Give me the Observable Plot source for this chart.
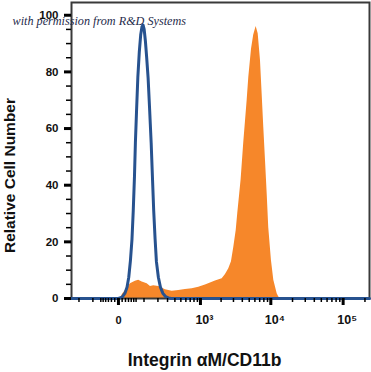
<!DOCTYPE html>
<html>
<head>
<meta charset="utf-8">
<script src="https://cdn.jsdelivr.net/npm/d3@7"></script>
<script src="https://cdn.jsdelivr.net/npm/@observablehq/plot@0.6"></script>
<style>
  html, body { margin: 0; padding: 0; background: #fff; }
  #chart { width: 371px; height: 372px; }
</style>
</head>
<body>
<div id="chart"></div>
<script>
// Isotype control (blue outline)
const isoX = [-275, 0, 10, 18, 25, 31, 37, 43, 48, 53, 57, 62, 68, 75, 82, 89, 95, 101, 108, 116, 125, 135, 146, 156, 165, 176, 187, 204, 223, 248, 276, 310, 345, 231000];
const isoY = [0, 0, 0.5, 1.8, 4, 7.5, 13.4, 21, 31, 43, 55, 66, 78, 87, 93, 96, 96.5, 95, 91, 85, 78, 67, 55, 42, 31, 21, 13, 7.5, 4, 1.8, 0.7, 0.2, 0, 0];

// Integrin aM/CD11b stained cells (orange filled)
const stainX = [5, 11, 20, 37, 57, 72, 90, 119, 141, 165, 208, 276, 360, 463, 591, 750, 944, 1186, 1405, 1659, 2072, 2311, 2575, 2810, 3030, 3280, 3450, 3645, 3850, 4190, 4680, 4930, 5380, 5780, 6250, 6670, 7180, 7580, 7980, 8430, 8900, 9360, 10200, 11000, 12250, 12900, 13600];
const stainY = [0, 1.5, 2.8, 5.2, 6.1, 6.4, 5.8, 5.2, 4.2, 4.5, 4.2, 3.1, 2.6, 2.8, 3.2, 3.4, 4.0, 4.8, 5.5, 6.2, 7.0, 8.5, 10.5, 13, 18, 24, 30, 36, 42, 55, 70, 78, 88, 93, 96, 93.5, 84, 72, 60.5, 48.8, 37, 25, 13.4, 6.4, 1.7, 0.5, 0];

// Axis ticks and labels
const yMajorTicks = [0, 20, 40, 60, 80, 100];
const yMinorTicks = [5, 10, 15, 25, 30, 35, 45, 50, 55, 65, 70, 75, 85, 90, 95, 100];
const xMajorTicks = [0, 1000, 10000, 100000];
const xMinorTicks = [-200, -100, -60, -50, -40, -30, -20, -10, 10, 20, 30, 40, 50, 60, 100, 200, 300, 400, 500, 600, 700, 800, 900,
  2000, 3000, 4000, 5000, 6000, 7000, 8000, 9000,
  20000, 30000, 40000, 50000, 60000, 70000, 80000, 90000, 200000];
const xPowerTicks = [1000, 10000, 100000];
const xPowerLabels = ["10\u00B3", "10\u2074", "10\u2075"];

const xTitle = "Integrin \u03B1M/CD11b";
const yTitle = "Relative Cell Number";
const watermark = "with permission from R&D Systems";

const iso = isoX.map((x, i) => ({x, y: isoY[i]}));
const stain = stainX.map((x, i) => ({x, y: stainY[i]}));

const ORANGE = "#f6872a";
const BLUE = "#27528f";
const FONT = "Liberation Sans, Arial, sans-serif";

const chart = Plot.plot({
  width: 371,
  height: 372,
  marginLeft: 71,
  marginRight: 2,
  marginTop: 2,
  marginBottom: 74,
  style: {fontFamily: FONT, background: "#fff", overflow: "visible"},
  x: {type: "symlog", constant: 80, domain: [-275, 231000]},
  y: {domain: [0, 104.5]},
  marks: [
    Plot.areaY(stain, {x: "x", y: "y", fill: ORANGE, curve: "linear"}),
    Plot.frame({stroke: "#3a3a3a", strokeWidth: 2}),
    Plot.line(iso, {x: "x", y: "y", stroke: BLUE, strokeWidth: 3, curve: "linear"}),
    // y ticks
    Plot.axisY({ticks: yMinorTicks, tickSize: 5, strokeWidth: 1.5, text: null, label: null, stroke: "#000"}),
    Plot.axisY({ticks: yMajorTicks, tickSize: 7, strokeWidth: 3, text: null, label: null, stroke: "#000"}),
    Plot.axisY({ticks: yMajorTicks, tickSize: 0, tickPadding: 13, label: null, fontWeight: "bold", fontSize: 11.5, fill: "#111"}),
    // x ticks
    Plot.axisX({ticks: xMinorTicks, tickSize: 4, strokeWidth: 1.5, text: null, label: null, stroke: "#000"}),
    Plot.axisX({ticks: xMajorTicks, tickSize: 7, strokeWidth: 3, text: null, label: null, stroke: "#000"}),
    Plot.axisX({ticks: [0], tickSize: 0, tickPadding: 18, tickFormat: () => "0", label: null, fontWeight: "bold", fontSize: 11, fill: "#111"}),
    Plot.axisX({ticks: xPowerTicks, tickSize: 0, tickPadding: 17, dx: 4, tickFormat: (d) => xPowerLabels[xPowerTicks.indexOf(d)], label: null, fontWeight: "bold", fontSize: 12.5, fill: "#111"}),
    // titles
    Plot.text([yTitle], {frameAnchor: "left", textAnchor: "middle", rotate: -90, dx: -61, dy: 25, fontWeight: "bold", fontSize: 15.5, fill: "#111", fontFamily: FONT}),
    Plot.text([xTitle], {frameAnchor: "bottom", textAnchor: "middle", dx: -16, dy: 67, fontWeight: "bold", fontSize: 17.5, fill: "#111", fontFamily: FONT}),
    Plot.text([watermark], {frameAnchor: "top-left", textAnchor: "start", dx: -59, dy: 14, fontStyle: "italic", fontSize: 12.2, fill: "#1f2c4c", fontFamily: "Liberation Serif, DejaVu Serif, serif"})
  ]
});
document.getElementById("chart").appendChild(chart);
</script>
</body>
</html>
